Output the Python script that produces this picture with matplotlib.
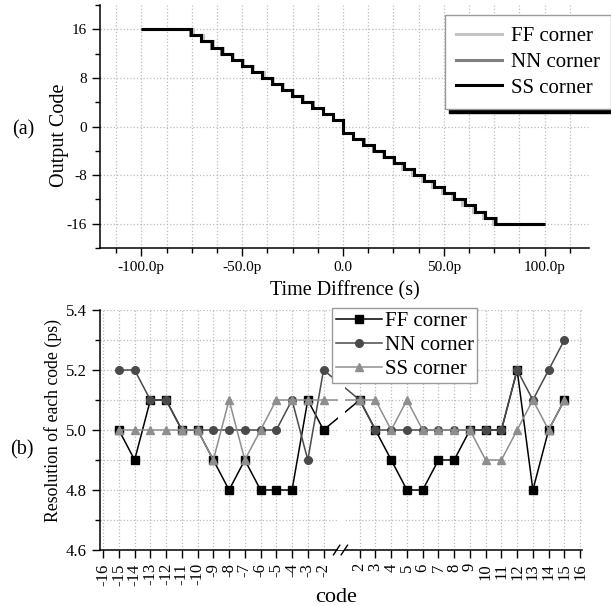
import matplotlib.pyplot as plt
import numpy as np
from matplotlib.ticker import FixedLocator, MultipleLocator, FuncFormatter

plt.rcParams['font.family'] = ['Liberation Serif', 'DejaVu Serif']

# resolution of each code (ps)
codes_neg = [-15, -14, -13, -12, -11, -10, -9, -8, -7, -6, -5, -4, -3, -2]
codes_pos = [2, 3, 4, 5, 6, 7, 8, 9, 10, 11, 12, 13, 14, 15]
ff_neg = [5.0, 4.9, 5.1, 5.1, 5.0, 5.0, 4.9, 4.8, 4.9, 4.8, 4.8, 4.8, 5.1, 5.0]
nn_neg = [5.2, 5.2, 5.1, 5.1, 5.0, 5.0, 5.0, 5.0, 5.0, 5.0, 5.0, 5.1, 4.9, 5.2]
ss_neg = [5.0, 5.0, 5.0, 5.0, 5.0, 5.0, 4.9, 5.1, 4.9, 5.0, 5.1, 5.1, 5.1, 5.1]
ff_pos = [5.1, 5.0, 4.9, 4.8, 4.8, 4.9, 4.9, 5.0, 5.0, 5.0, 5.2, 4.8, 5.0, 5.1]
nn_pos = [5.1, 5.0, 5.0, 5.0, 5.0, 5.0, 5.0, 5.0, 5.0, 5.0, 5.2, 5.1, 5.2, 5.3]
ss_pos = [5.1, 5.1, 5.0, 5.1, 5.0, 5.0, 5.0, 5.0, 4.9, 4.9, 5.0, 5.1, 5.0, 5.1]
res_code_pm1 = 5.0  # codes +1 / -1 are not shown in (b), estimated

corners = ['FF corner', 'NN corner', 'SS corner']
res_neg = [ff_neg, nn_neg, ss_neg]
res_pos = [ff_pos, nn_pos, ss_pos]

# panel (a): transfer curve, time range and output codes
t_start, t_end = -100.0, 100.0
out_codes = list(range(16, 0, -1)) + list(range(-1, -17, -1))

step_colors = ['#c4c4c4', '#808080', '#000000']
res_colors = ['#000000', '#4a4a4a', '#8e8e8e']
res_markers = ['s', 'o', '^']

fig = plt.figure(figsize=(6.11, 6.06), dpi=100)
W, H = 611.0, 606.0
ax1 = fig.add_axes([100 / W, 1 - 248 / H, 489 / W, 243 / H])
ax2 = fig.add_axes([100 / W, 1 - 550 / H, 482 / W, 240 / H])

for ax in (ax1, ax2):
    ax.spines['top'].set_visible(False)
    ax.spines['right'].set_visible(False)
    for s in ('left', 'bottom'):
        ax.spines[s].set_linewidth(1.1)
    ax.tick_params(which='major', direction='out', length=6, width=1.0)
    ax.tick_params(which='minor', direction='out', length=3.5, width=1.0)

# ---- (a) output code vs time difference
for i, name in enumerate(corners):
    # step width of each code = its resolution; code 1 -> -1 transition at t = 0
    w_before = list(res_pos[i][::-1]) + [res_code_pm1]      # codes 15..1
    w_after = [res_code_pm1] + list(res_neg[i][::-1])       # codes -1..-15
    inner = np.concatenate([-np.cumsum(w_before[::-1])[::-1], [0.0], np.cumsum(w_after)])
    edges = np.concatenate([[t_start], inner, [t_end]])
    ax1.stairs(out_codes, edges, baseline=None, color=step_colors[i],
               linewidth=2.2, label=name)

ax1.set_xlim(-120.5, 122)
ax1.set_ylim(-20, 20)
ax1.xaxis.set_major_locator(MultipleLocator(50))
ax1.xaxis.set_minor_locator(MultipleLocator(12.5))
ax1.yaxis.set_major_locator(MultipleLocator(8))
ax1.yaxis.set_minor_locator(MultipleLocator(4))
ax1.xaxis.set_major_formatter(FuncFormatter(lambda v, _: '0.0' if abs(v) < 1e-9 else f'{v:.1f}p'))
ax1.yaxis.set_major_formatter(FuncFormatter(lambda v, _: f'{v:.0f}'))
ax1.tick_params(labelsize=11)
ax1.grid(True, which='major', axis='y', linestyle=':', color='#bcbcbc', linewidth=0.9)
ax1.grid(True, which='both', axis='x', linestyle=':', color='#bcbcbc', linewidth=0.9)
ax1.set_axisbelow(True)

leg1 = ax1.legend(loc='upper left', bbox_to_anchor=(445 / W, 1 - 15 / H),
                  bbox_transform=fig.transFigure, fontsize=15, frameon=True,
                  fancybox=False, framealpha=1, edgecolor='#9a9a9a',
                  handlelength=2.2, handletextpad=0.4, labelspacing=0.3,
                  borderpad=0.55, borderaxespad=0,
                  shadow={'facecolor': 'black', 'edgecolor': 'black', 'alpha': 1,
                          'ox': 3, 'oy': -3})
leg1.get_frame().set_linewidth(1.0)

fig.text(23 / W, 1 - 130 / H, '(a)', fontsize=14.5, ha='center', va='center')
fig.text(60 / W, 1 - 135 / H, 'Output Code', fontsize=14.5, rotation=90,
         ha='center', va='center')
fig.text(345 / W, 1 - 291 / H, 'Time Diffrence (s)', fontsize=14.5,
         ha='center', va='center')

# ---- (b) resolution of each code, broken x axis between -2 and 2
gap = 2.3


def fwd(c):
    c = np.asarray(c, dtype=float)
    return np.where(c <= -2, c, np.where(c >= 2, c - 4 + gap, -2 + (c + 2) * gap / 4))


def inv(p):
    p = np.asarray(p, dtype=float)
    return np.where(p <= -2, p, np.where(p >= -2 + gap, p + 4 - gap, -2 + (p + 2) * 4 / gap))


ax2.set_xscale('function', functions=(fwd, inv))
all_codes = codes_neg + codes_pos
for i, name in enumerate(corners):
    ax2.plot(all_codes, res_neg[i] + res_pos[i], color=res_colors[i],
             marker=res_markers[i], markersize=5.5, linewidth=1.1, label=name,
             zorder=3 + i)

tick_codes = list(range(-16, -1)) + list(range(2, 17))
ax2.set_xlim(-16.2, 16.12)
ax2.set_ylim(4.6, 5.4)
ax2.xaxis.set_major_locator(FixedLocator(tick_codes))
ax2.xaxis.set_minor_locator(FixedLocator([]))
ax2.xaxis.set_major_formatter(FuncFormatter(lambda v, _: f'{v:.0f}'))
ax2.yaxis.set_major_locator(MultipleLocator(0.2))
ax2.yaxis.set_minor_locator(MultipleLocator(0.1))
ax2.yaxis.set_major_formatter(FuncFormatter(lambda v, _: f'{v:.1f}'))
ax2.tick_params(axis='x', labelsize=12, labelrotation=90)
ax2.tick_params(axis='y', labelsize=12)
ax2.grid(True, which='both', linestyle=':', color='#bcbcbc', linewidth=0.9)
ax2.set_axisbelow(True)

# break: white gap over the lines and two slashes on the axis
ax2.axvspan(-0.45, 0.42, color='white', zorder=6, linewidth=0)
tr = ax2.get_xaxis_transform()
for xc in (-0.55, 0.3):
    ax2.plot([xc - 0.35, xc + 0.35], [-0.02, 0.02], transform=tr, color='black',
             linewidth=1.0, clip_on=False, zorder=7)

leg2 = ax2.legend(loc='upper left', bbox_to_anchor=(332 / W, 1 - 308 / H),
                  bbox_transform=fig.transFigure, fontsize=15, frameon=True,
                  fancybox=False, framealpha=1, edgecolor='#9a9a9a',
                  handlelength=2.2, handletextpad=0.15, labelspacing=0.2,
                  borderpad=0.18, borderaxespad=0, numpoints=1)
leg2.get_frame().set_linewidth(1.0)
leg2.set_zorder(10)

fig.text(22 / W, 1 - 450 / H, '(b)', fontsize=14.5, ha='center', va='center')
fig.text(53 / W, 1 - 420 / H, 'Resolution of each code (ps)', fontsize=12.8,
         rotation=90, ha='center', va='center')
fig.text(336 / W, 1 - 598 / H, 'code', fontsize=16, ha='center', va='center')

fig.savefig('out.png', dpi=100)
